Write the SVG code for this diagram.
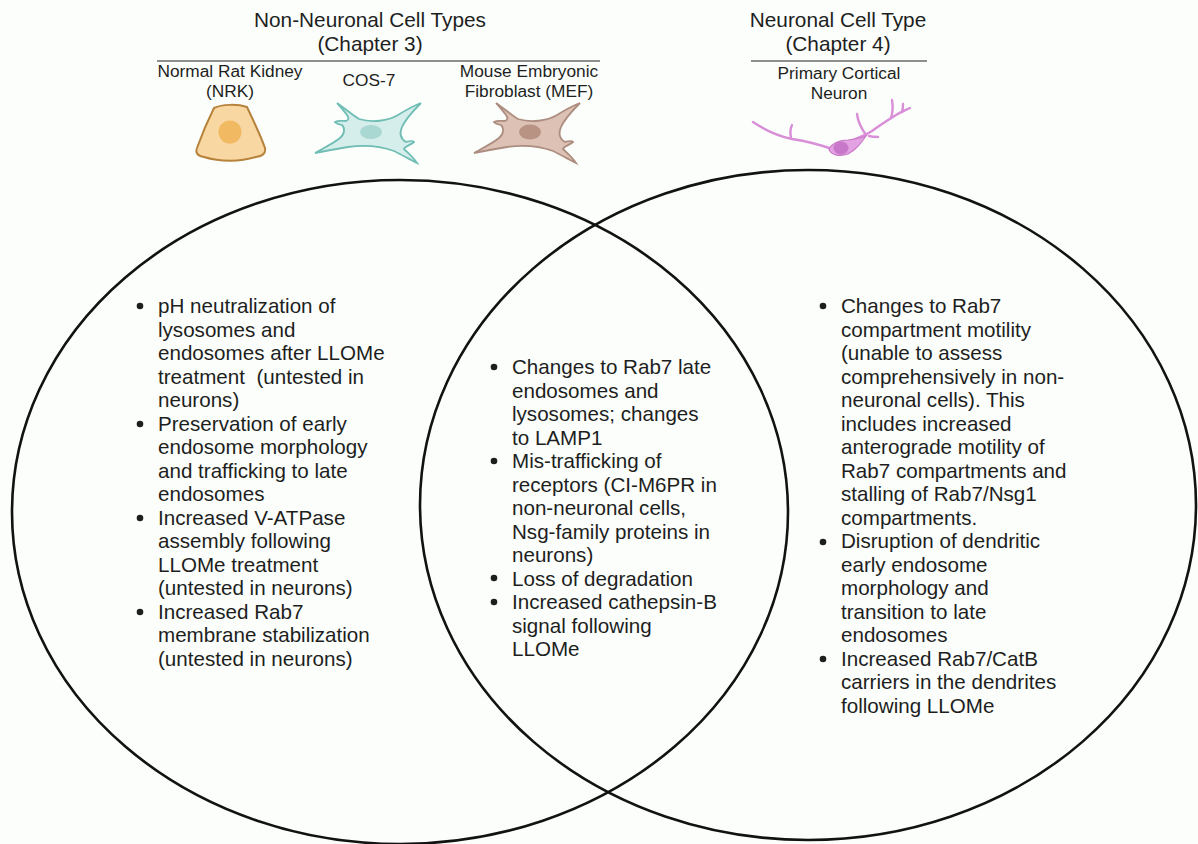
<svg xmlns="http://www.w3.org/2000/svg" width="1198" height="844" viewBox="0 0 1198 844">
  <defs>
    <style>
      text { font-family: "Liberation Sans", Arial, sans-serif; fill: #1e1e1e; }
      .head { font-size: 20.8px; text-anchor: middle; }
      .lab { font-size: 17.3px; text-anchor: middle; }
      .body { font-size: 20.6px; }
      .rule { stroke: #6a6a6a; stroke-width: 1.6; }
      .ring { fill: none; stroke: #121212; stroke-width: 2.6; }
      .dot { fill: #1e1e1e; }
      .dend { fill: none; stroke: #d98ed8; stroke-width: 2.4; stroke-linecap: round; stroke-linejoin: round; }
    </style>
    <!-- spread, multi-armed cell outline shared by COS-7 and MEF -->
    <path id="spreadCell" d="M337,103 C346,109 352,115 359,119 C372,123 388,121 398,115 C406,110 413,106 421,103 C414,110 406,118 402,127 C399,134 401,139 406,142 C410,141 413,140 414,142 C411,145 405,146 404,149 C408,153 413,157 417,163 C409,159 402,155 394,151 C380,146 362,145 348,147 C336,149 325,151 315,153 C324,148 334,143 340,138 C345,134 345,128 342,125 C339,124 336,124 335,122 C338,120 342,121 346,121 C349,120 349,118 347,115 C344,111 341,107 337,103 Z"/>
  </defs>

  <rect x="0" y="0" width="1198" height="844" fill="#fbfefb"/>

  <!-- column headers -->
  <g id="header-nonneuronal">
    <text class="head" x="370" y="27">Non-Neuronal Cell Types</text>
    <text class="head" x="370" y="51">(Chapter 3)</text>
    <line class="rule" x1="157" y1="61" x2="600" y2="61"/>
  </g>
  <g id="header-neuronal">
    <text class="head" x="838" y="27">Neuronal Cell Type</text>
    <text class="head" x="838" y="51">(Chapter 4)</text>
    <line class="rule" x1="751" y1="61" x2="927" y2="61"/>
  </g>

  <!-- cell type icons -->
  <g id="cell-nrk">
    <text class="lab" x="230" y="77">Normal Rat Kidney</text>
    <text class="lab" x="230" y="97">(NRK)</text>
    <path d="M214,108 C222,104 238,104 247,107 C253,120 260,134 265,148 C266,154 262,156 256,157 C240,162 220,162 204,157 C198,156 195,153 197,148 C202,134 208,120 214,108 Z" fill="#f8d7a3" stroke="#b7833c" stroke-width="2"/>
    <circle cx="230" cy="132" r="11.5" fill="#f1ba62"/>
  </g>
  <g id="cell-cos7">
    <text class="lab" x="369" y="86">COS-7</text>
    <use href="#spreadCell" fill="#d6eeeb" stroke="#6fbdb4" stroke-width="1.8"/>
    <ellipse cx="371" cy="132" rx="11" ry="7" fill="#a9d7d2"/>
  </g>
  <g id="cell-mef">
    <text class="lab" x="529" y="77">Mouse Embryonic</text>
    <text class="lab" x="529" y="97">Fibroblast (MEF)</text>
    <use href="#spreadCell" transform="translate(159,0)" fill="#dcc1b4" stroke="#ac8d7f" stroke-width="1.8"/>
    <ellipse cx="530" cy="132" rx="11" ry="7.5" fill="#b89283"/>
  </g>
  <g id="cell-neuron">
    <text class="lab" x="839" y="79">Primary Cortical</text>
    <text class="lab" x="839" y="99">Neuron</text>
    <path class="dend" d="M753,122 C765,130 778,136 792,139 C805,141 818,144 832,149"/>
    <path class="dend" d="M791,138 C790,133 790,129 792,125"/>
    <path class="dend" d="M848,142 C858,138 866,135 872,131 C880,125 888,120 896,115 C901,112 906,110 910,108"/>
    <path class="dend" d="M866,135 C861,128 858,122 857,114"/>
    <path class="dend" d="M869,136 C872,137 875,137 878,137"/>
    <path class="dend" d="M891,118 C893,112 893,106 892,100"/>
    <path class="dend" d="M902,112 C903,109 903,107 903,104"/>
    <path d="M829,149 C832,143 840,140 848,140 C856,139 861,138 866,136 C861,143 856,150 848,154 C840,157 830,155 829,149 Z" fill="#e3a2e2" stroke="#c978c8" stroke-width="1.2"/>
    <ellipse cx="841" cy="148" rx="7.5" ry="6.5" fill="#c878c8"/>
  </g>

  <!-- the two overlapping sets -->
  <g id="connectors">
    <ellipse class="ring" id="set-nonneuronal" cx="400" cy="512" rx="388" ry="332"/>
    <ellipse class="ring" id="set-neuronal" cx="808" cy="505" rx="388" ry="335"/>
  </g>

  <!-- findings only seen in non-neuronal cells -->
  <g id="list-nonneuronal">
    <circle class="dot" cx="140" cy="306" r="3.3"/>
    <circle class="dot" cx="140" cy="424" r="3.3"/>
    <circle class="dot" cx="140" cy="518" r="3.3"/>
    <circle class="dot" cx="140" cy="612" r="3.3"/>
    <text class="body">
      <tspan x="158" y="313">pH neutralization of</tspan>
      <tspan x="158" y="336.5">lysosomes and</tspan>
      <tspan x="158" y="360">endosomes after LLOMe</tspan>
      <tspan x="158" y="383.5" xml:space="preserve">treatment  (untested in</tspan>
      <tspan x="158" y="407">neurons)</tspan>
      <tspan x="158" y="430.5">Preservation of early</tspan>
      <tspan x="158" y="454">endosome morphology</tspan>
      <tspan x="158" y="477.5">and trafficking to late</tspan>
      <tspan x="158" y="501">endosomes</tspan>
      <tspan x="158" y="524.5">Increased V-ATPase</tspan>
      <tspan x="158" y="548">assembly following</tspan>
      <tspan x="158" y="571.5">LLOMe treatment</tspan>
      <tspan x="158" y="595">(untested in neurons)</tspan>
      <tspan x="158" y="618.5">Increased Rab7</tspan>
      <tspan x="158" y="642">membrane stabilization</tspan>
      <tspan x="158" y="665.5">(untested in neurons)</tspan>
    </text>
  </g>

  <!-- shared findings -->
  <g id="list-shared">
    <circle class="dot" cx="494" cy="367" r="3.3"/>
    <circle class="dot" cx="494" cy="461" r="3.3"/>
    <circle class="dot" cx="494" cy="578" r="3.3"/>
    <circle class="dot" cx="494" cy="602" r="3.3"/>
    <text class="body">
      <tspan x="512" y="374">Changes to Rab7 late</tspan>
      <tspan x="512" y="397.5">endosomes and</tspan>
      <tspan x="512" y="421">lysosomes; changes</tspan>
      <tspan x="512" y="444.5">to LAMP1</tspan>
      <tspan x="512" y="468">Mis-trafficking of</tspan>
      <tspan x="512" y="491.5">receptors (CI-M6PR in</tspan>
      <tspan x="512" y="515">non-neuronal cells,</tspan>
      <tspan x="512" y="538.5">Nsg-family proteins in</tspan>
      <tspan x="512" y="562">neurons)</tspan>
      <tspan x="512" y="585.5">Loss of degradation</tspan>
      <tspan x="512" y="609">Increased cathepsin-B</tspan>
      <tspan x="512" y="632.5">signal following</tspan>
      <tspan x="512" y="656">LLOMe</tspan>
    </text>
  </g>

  <!-- findings only seen in neurons -->
  <g id="list-neuronal">
    <circle class="dot" cx="823" cy="306" r="3.3"/>
    <circle class="dot" cx="823" cy="542" r="3.3"/>
    <circle class="dot" cx="823" cy="659" r="3.3"/>
    <text class="body">
      <tspan x="841" y="313">Changes to Rab7</tspan>
      <tspan x="841" y="336.5">compartment motility</tspan>
      <tspan x="841" y="360">(unable to assess</tspan>
      <tspan x="841" y="383.5">comprehensively in non-</tspan>
      <tspan x="841" y="407">neuronal cells). This</tspan>
      <tspan x="841" y="430.5">includes increased</tspan>
      <tspan x="841" y="454">anterograde motility of</tspan>
      <tspan x="841" y="477.5">Rab7 compartments and</tspan>
      <tspan x="841" y="501">stalling of Rab7/Nsg1</tspan>
      <tspan x="841" y="524.5">compartments.</tspan>
      <tspan x="841" y="548">Disruption of dendritic</tspan>
      <tspan x="841" y="571.5">early endosome</tspan>
      <tspan x="841" y="595">morphology and</tspan>
      <tspan x="841" y="618.5">transition to late</tspan>
      <tspan x="841" y="642">endosomes</tspan>
      <tspan x="841" y="665.5">Increased Rab7/CatB</tspan>
      <tspan x="841" y="689">carriers in the dendrites</tspan>
      <tspan x="841" y="712.5">following LLOMe</tspan>
    </text>
  </g>
</svg>
